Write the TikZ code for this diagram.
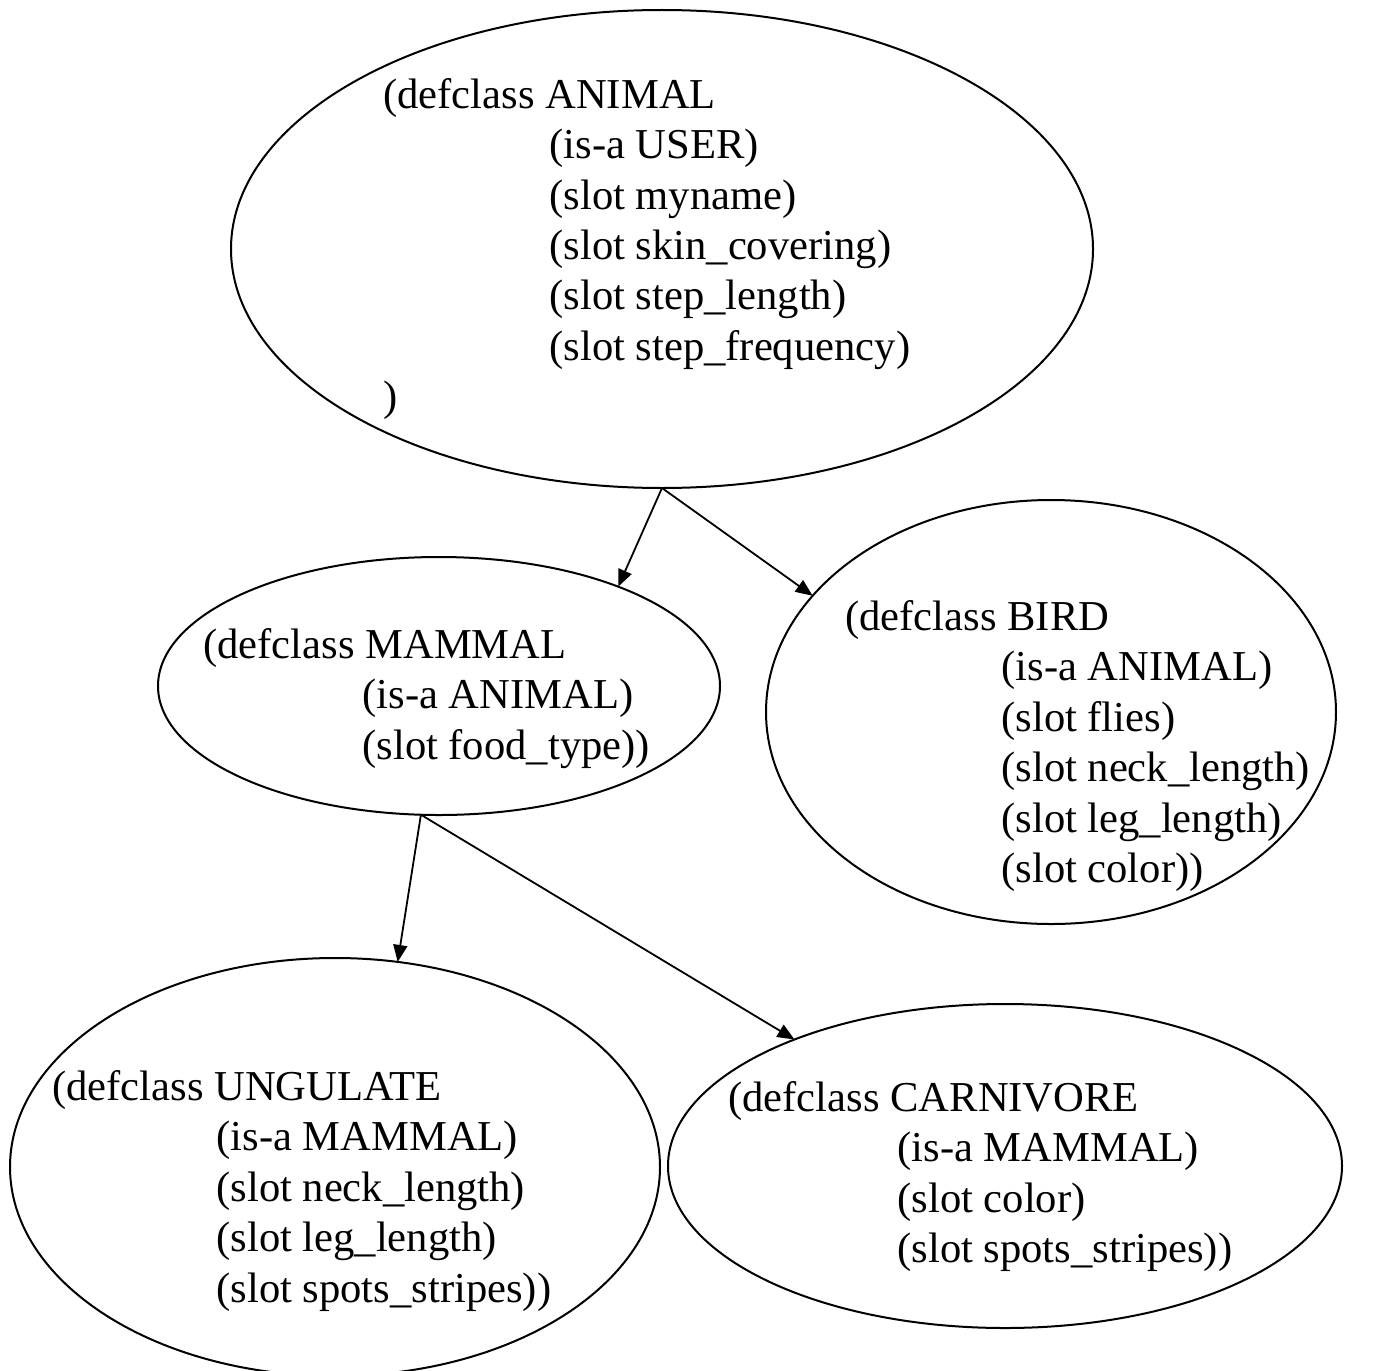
\documentclass[tikz,border=0pt]{standalone}
\usepackage{fontspec}
\setmainfont{Liberation Serif}
\usetikzlibrary{shapes.geometric,arrows.meta}
\begin{document}
\begin{tikzpicture}[x=0.5pt,y=-0.5pt,
  classshape/.style={ellipse,draw,line width=1pt,inner sep=0pt,outer sep=0pt},
  classtext/.style={anchor=north west,align=left,inner sep=0pt,
    font=\fontsize{21.3}{25.2}\selectfont},
  inherits/.style={-{Triangle[length=8.5pt,width=7pt]},line width=0.9pt}]
\useasboundingbox (0,0) rectangle (1375,1370);

% class outlines
\node[classshape,minimum width=431pt,minimum height=239pt] (animal) at (662,249) {};
\node[classshape,minimum width=281pt,minimum height=129pt] (mammal) at (439,686) {};
\node[classshape,minimum width=285pt,minimum height=212pt] (bird) at (1051,712) {};
\node[classshape,minimum width=325pt,minimum height=209pt] (ungulate) at (335,1167) {};
\node[classshape,minimum width=337pt,minimum height=162pt] (carnivore) at (1005,1166) {};

% class definitions
\node[classtext] (animaltext) at (383,78) {(defclass ANIMAL\\
  \hspace*{83pt}(is-a USER)\\
  \hspace*{83pt}(slot myname)\\
  \hspace*{83pt}(slot skin\_covering)\\
  \hspace*{83pt}(slot step\_length)\\
  \hspace*{83pt}(slot step\_frequency)\\
  )};
\node[classtext] (mammaltext) at (203,628) {(defclass MAMMAL\\
  \hspace*{79.5pt}(is-a ANIMAL)\\
  \hspace*{79.5pt}(slot food\_type))};
\node[classtext] (birdtext) at (845,600) {(defclass BIRD\\
  \hspace*{78pt}(is-a ANIMAL)\\
  \hspace*{78pt}(slot flies)\\
  \hspace*{78pt}(slot neck\_length)\\
  \hspace*{78pt}(slot leg\_length)\\
  \hspace*{78pt}(slot color))};
\node[classtext] (ungulatetext) at (52,1070) {(defclass UNGULATE\\
  \hspace*{82pt}(is-a MAMMAL)\\
  \hspace*{82pt}(slot neck\_length)\\
  \hspace*{82pt}(slot leg\_length)\\
  \hspace*{82pt}(slot spots\_stripes))};
\node[classtext] (carnivoretext) at (728,1081) {(defclass CARNIVORE\\
  \hspace*{84.5pt}(is-a MAMMAL)\\
  \hspace*{84.5pt}(slot color)\\
  \hspace*{84.5pt}(slot spots\_stripes))};

% inheritance links
\draw[inherits] (animal.south) -- (mammal.29);
\draw[inherits] (animal.south) -- (bird.154);
\draw[inherits] (mammal.262) -- (ungulate.73);
\draw[inherits] (mammal.262) -- (carnivore.149);
\end{tikzpicture}
\end{document}
